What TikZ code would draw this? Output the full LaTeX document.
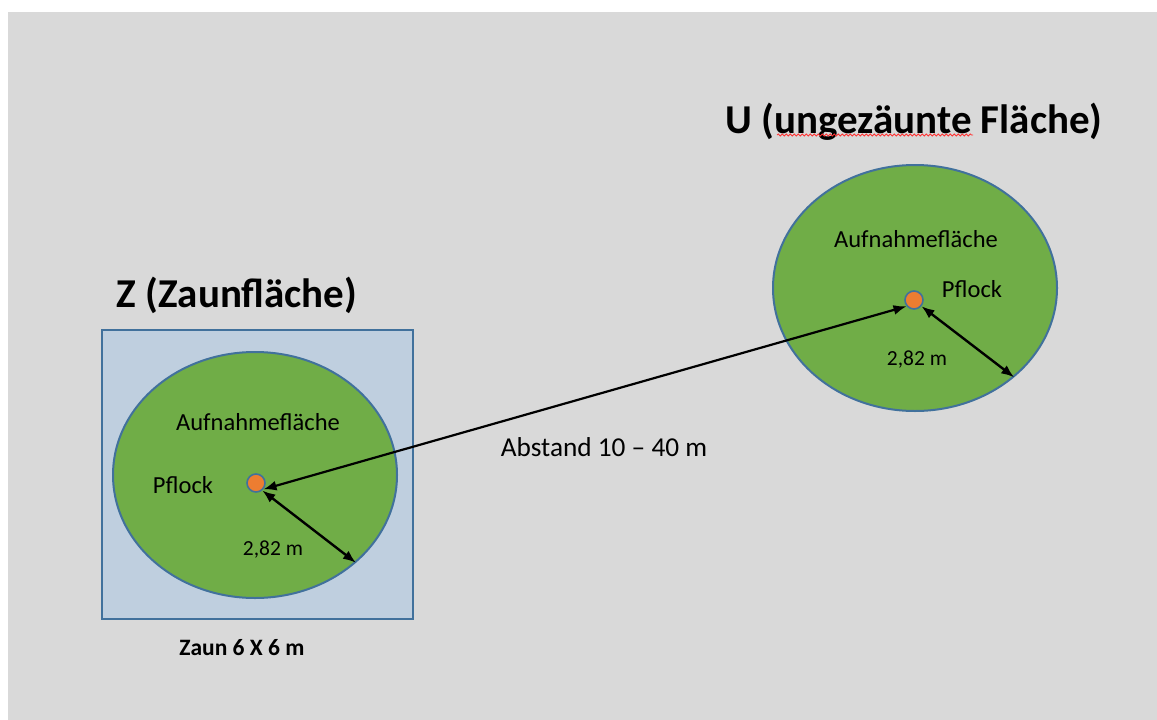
\documentclass[tikz,border=0pt]{standalone}
\usepackage{fontspec}
\setmainfont{Carlito}
\usetikzlibrary{shapes.geometric,arrows.meta,decorations.pathmorphing}
\definecolor{bggray}{HTML}{D9D9D9}
\definecolor{fencefill}{HTML}{BFCFDF}
\definecolor{edgeblue}{HTML}{41719C}
\definecolor{plotgreen}{HTML}{70AD47}
\definecolor{pegorange}{HTML}{ED7D31}
\tikzset{
  plot/.style={ellipse, draw=edgeblue, line width=2pt, fill=plotgreen, minimum width=284pt, minimum height=246pt, inner sep=0pt},
  peg/.style={circle, draw=edgeblue, line width=1.6pt, fill=pegorange, minimum size=18pt, inner sep=0pt},
  fence/.style={draw=edgeblue, line width=2.5pt, fill=fencefill, minimum width=311pt, minimum height=289pt, inner sep=0pt},
  lbl/.style={font=\fontsize{24.5}{28}\selectfont, inner sep=0pt},
  small/.style={font=\fontsize{21.5}{25}\selectfont, inner sep=0pt},
  title/.style={font=\fontsize{41}{48}\selectfont\bfseries, inner sep=0pt},
  dim/.style={line width=2.4pt, {Latex[length=13pt,width=10pt]}-{Latex[length=13pt,width=10pt]}},
  dist/.style={line width=2.2pt, {Latex[length=13pt,width=10pt]}-{Latex[length=13pt,width=10pt]}}
}
\begin{document}
\begin{tikzpicture}[x=1pt,y=-1pt]
\useasboundingbox (0,0) rectangle (1157,720);
\fill[white] (0,0) rectangle (1157,720);
\fill[bggray] (8,12) rectangle (1157,720);
% left: fenced plot
\node[fence] (fenceZ) at (257.5,474.5) {};
\node[plot] (ellL) at (255,475) {};
\node[peg] (dotL) at (256,483) {};
\node[lbl] (aufL) at (258,422) {Aufnahmefläche};
\node[lbl] (pflL) at (183,485) {Pflock};
\node[small] (radL) at (273,550) {2,82 m};
\node[title] (titleZ) at (237,295) {Z (Zaunfläche)};
\node[font=\fontsize{23.5}{27}\selectfont\bfseries, inner sep=0pt] (zaun) at (242,648) {Zaun 6 X 6 m};
% right: unfenced plot
\node[plot] (ellR) at (915,288) {};
\node[peg] (dotR) at (914,300) {};
\node[lbl] (aufR) at (916,239) {Aufnahmefläche};
\node[lbl] (pflR) at (972,289) {Pflock};
\node[small] (radR) at (917,360) {2,82 m};
\node[title] (titleU) at (914,122) {U (ungezäunte Fläche)};
\draw[red!80, line width=0.8pt, decorate, decoration={snake, segment length=4pt, amplitude=1pt}] (777,135) -- (973,135);
% distance
\node[font=\fontsize{27.3}{31}\selectfont, inner sep=0pt] (abst) at (604,447) {Abstand 10 – 40 m};
% arrows
\draw[dist] (dotL.-40) -- (dotR.-140);
\draw[dim] (dotL.-50) -- (ellL.-41);
\draw[dim] (dotR.-40) -- (ellR.-42);
\end{tikzpicture}
\end{document}
